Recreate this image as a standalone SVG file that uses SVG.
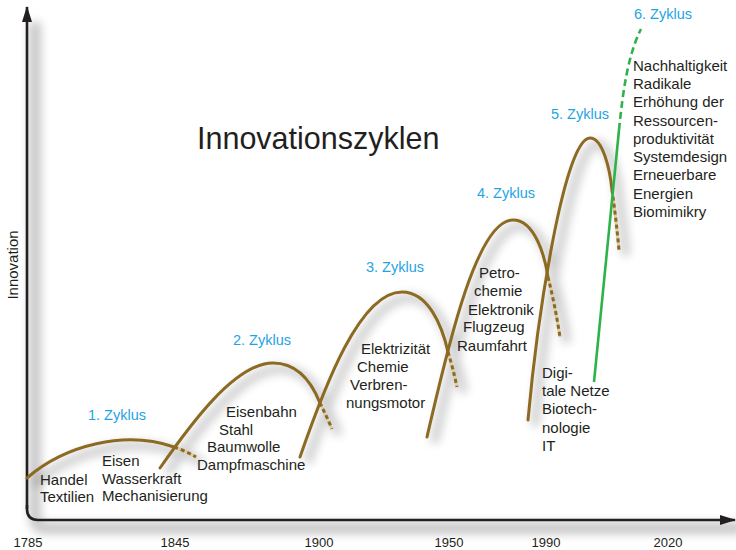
<svg xmlns="http://www.w3.org/2000/svg" width="736" height="550" viewBox="0 0 736 550">
  <style>
    .lbl { font-family: "Liberation Sans", Arial, sans-serif; font-size: 15px; fill: #231f20; }
    .cyc { font-family: "Liberation Sans", Arial, sans-serif; font-size: 14.5px; fill: #1ea4e4; }
    .yr  { font-family: "Liberation Sans", Arial, sans-serif; font-size: 13px; fill: #231f20; text-anchor: middle; }
    .ttl { font-family: "Liberation Sans", Arial, sans-serif; font-size: 30.5px; fill: #231f20; }
    .wave { fill: none; stroke: #8c6a22; stroke-width: 3; stroke-linecap: round; }
    .wave-fade { fill: none; stroke: #dccdaa; stroke-width: 3; }
    .wave-dash { fill: none; stroke: #8c6a22; stroke-width: 3; stroke-dasharray: 4 3; }
    .green { fill: none; stroke: #2fb24a; stroke-width: 2.6; }
    .green-dash { fill: none; stroke: #2fb24a; stroke-width: 2.6; stroke-dasharray: 7 4; }
    .shade { fill: none; stroke: #000; stroke-width: 9; }
    .axis { fill: none; stroke: #231f20; stroke-width: 2.6; }
  </style>
  <defs>
    <filter id="soft" x="-30%" y="-30%" width="160%" height="160%">
      <feGaussianBlur stdDeviation="5"/>
    </filter>
    <marker id="tip" viewBox="0 0 16 10" refX="15" refY="5" markerWidth="16" markerHeight="10" markerUnits="userSpaceOnUse" orient="auto">
      <path d="M0,0 L16,5 L0,10 Z" fill="#231f20"/>
    </marker>
    <!-- wave outlines, shared between the drop shadow and the drawn strokes -->
    <path id="w1" d="M27,478 C65,445 125,430 174,447"/>
    <path id="w1d" d="M174,447 Q186,451 196,457"/>
    <path id="w2" d="M160,468 C190,425 235,363 273,363 C298,363 312,383 320,403"/>
    <path id="w2d" d="M320,403 Q326,415 332,429"/>
    <path id="w3" d="M300,457 C325,385 360,292 402,292 C428,292 442,325 448,352"/>
    <path id="w3d" d="M448,352 Q453,368 457,387"/>
    <path id="w4" d="M427,437 C445,360 475,220 513,220 C535,220 545,257 548,277"/>
    <path id="w4d" d="M548,277 Q555,305 560,337"/>
    <path id="w5" d="M528,420 C538,310 565,138 590,138 C603,138 610,170 612,190"/>
    <path id="w5d" d="M612,190 Q616,218 619,250"/>
    <path id="w6" d="M594,382 L619,130"/>
    <path id="w6d" d="M619,130 C623,90 628,55 641,29"/>
    <path id="ax" d="M27,14 V509 Q27,520 38,520 H734"/>
  </defs>

  <!-- soft drop shadows -->
  <g id="axis-shadow" filter="url(#soft)" opacity="0.22" transform="translate(8,8)">
    <use href="#ax" class="shade" style="stroke-width:12"/>
  </g>
  <g id="shadows" filter="url(#soft)" opacity="0.19" transform="translate(7,6)">
    <use href="#w1" class="shade"/><use href="#w1d" class="shade"/>
    <use href="#w2" class="shade"/><use href="#w2d" class="shade"/>
    <use href="#w3" class="shade"/><use href="#w3d" class="shade"/>
    <use href="#w4" class="shade"/><use href="#w4d" class="shade"/>
    <use href="#w5" class="shade"/><use href="#w5d" class="shade"/>
  </g>

  <!-- axes -->
  <g id="axes">
    <path class="axis" d="M27,509 V7" marker-end="url(#tip)"/>
    <path class="axis" d="M27,505 V509 Q27,520 38,520 H735" marker-end="url(#tip)"/>
    <text class="lbl" transform="translate(18,265) rotate(-90)" text-anchor="middle">Innovation</text>
    <text class="yr" x="28" y="547">1785</text>
    <text class="yr" x="175" y="547">1845</text>
    <text class="yr" x="319" y="547">1900</text>
    <text class="yr" x="449" y="547">1950</text>
    <text class="yr" x="546" y="547">1990</text>
    <text class="yr" x="668" y="547">2020</text>
  </g>

  <text class="ttl" x="197" y="149">Innovationszyklen</text>

  <!-- innovation waves -->
  <g id="connectors">
    <g id="wave1">
      <use href="#w1" class="wave"/>
      <use href="#w1d" class="wave-fade"/><use href="#w1d" class="wave-dash"/>
    </g>
    <g id="wave2">
      <use href="#w2" class="wave"/>
      <use href="#w2d" class="wave-fade"/><use href="#w2d" class="wave-dash"/>
    </g>
    <g id="wave3">
      <use href="#w3" class="wave"/>
      <use href="#w3d" class="wave-fade"/><use href="#w3d" class="wave-dash"/>
    </g>
    <g id="wave4">
      <use href="#w4" class="wave"/>
      <use href="#w4d" class="wave-fade"/><use href="#w4d" class="wave-dash"/>
    </g>
    <g id="wave5">
      <use href="#w5" class="wave"/>
      <use href="#w5d" class="wave-fade"/><use href="#w5d" class="wave-dash"/>
    </g>
    <g id="wave6">
      <use href="#w6" class="green"/>
      <use href="#w6d" class="green-dash"/>
    </g>
  </g>

  <!-- cycle 1 -->
  <g id="cycle1">
    <text class="cyc" x="88" y="420">1. Zyklus</text>
    <text class="lbl" x="40" y="485">Handel</text>
    <text class="lbl" x="40" y="502">Textilien</text>
    <text class="lbl" x="102" y="466">Eisen</text>
    <text class="lbl" x="102" y="484">Wasserkraft</text>
    <text class="lbl" x="102" y="501">Mechanisierung</text>
  </g>

  <!-- cycle 2 -->
  <g id="cycle2">
    <text class="cyc" x="233" y="345">2. Zyklus</text>
    <text class="lbl" x="226" y="417">Eisenbahn</text>
    <text class="lbl" x="219" y="435">Stahl</text>
    <text class="lbl" x="207" y="452">Baumwolle</text>
    <text class="lbl" x="197" y="470">Dampfmaschine</text>
  </g>

  <!-- cycle 3 -->
  <g id="cycle3">
    <text class="cyc" x="366" y="272">3. Zyklus</text>
    <text class="lbl" x="361" y="354">Elektrizität</text>
    <text class="lbl" x="357" y="372">Chemie</text>
    <text class="lbl" x="350" y="390">Verbren-</text>
    <text class="lbl" x="346" y="408">nungsmotor</text>
  </g>

  <!-- cycle 4 -->
  <g id="cycle4">
    <text class="cyc" x="477" y="198">4. Zyklus</text>
    <text class="lbl" x="479" y="278">Petro-</text>
    <text class="lbl" x="474" y="296">chemie</text>
    <text class="lbl" x="468" y="315">Elektronik</text>
    <text class="lbl" x="463" y="332">Flugzeug</text>
    <text class="lbl" x="457" y="351">Raumfahrt</text>
  </g>

  <!-- cycle 5 -->
  <g id="cycle5">
    <text class="cyc" x="551" y="119">5. Zyklus</text>
    <text class="lbl" x="542" y="378">Digi-</text>
    <text class="lbl" x="542" y="396">tale Netze</text>
    <text class="lbl" x="542" y="414">Biotech-</text>
    <text class="lbl" x="542" y="433">nologie</text>
    <text class="lbl" x="542" y="451">IT</text>
  </g>

  <!-- cycle 6 -->
  <g id="cycle6">
    <text class="cyc" x="634" y="19">6. Zyklus</text>
    <text class="lbl" x="633" y="71">Nachhaltigkeit</text>
    <text class="lbl" x="633" y="89">Radikale</text>
    <text class="lbl" x="633" y="107">Erhöhung der</text>
    <text class="lbl" x="633" y="126">Ressourcen-</text>
    <text class="lbl" x="633" y="144">produktivität</text>
    <text class="lbl" x="633" y="162">Systemdesign</text>
    <text class="lbl" x="633" y="180">Erneuerbare</text>
    <text class="lbl" x="633" y="199">Energien</text>
    <text class="lbl" x="633" y="217">Biomimikry</text>
  </g>
</svg>
